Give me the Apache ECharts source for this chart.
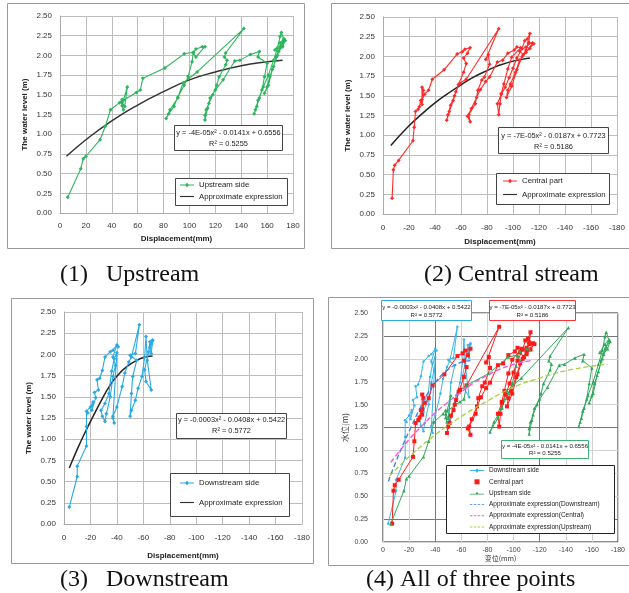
<!DOCTYPE html>
<html><head><meta charset="utf-8">
<script src="https://cdn.jsdelivr.net/npm/echarts@6/dist/echarts.min.js"></script>
<style>html,body{margin:0;padding:0;background:#fff}#c{width:629px;height:593px}</style>
</head><body><div id="c"></div>
<script>
// ---------- DATA (displacement magnitude in mm, water level in m) ----------
const upDisp  = [6,16,18,20,31,35,39,46,48,48,49,48,50,52,49,59,62,64,81,96,103,105,110,112,105,103,102,99,96,91,88,84,82,85,91,95,106,142,128,127,129,128,123,121,118,115,113,112,112,114,116,120,126,135,139,147,154,153,160,158,156,153,151,150,152,154,157,161,165,168,170,171,173,170,167,165,162,160,158,161,164,168,171,174,172,169,166,170,173];
const upLevel = [0.20,0.56,0.69,0.72,0.93,1.10,1.31,1.40,1.44,1.36,1.31,1.40,1.35,1.60,1.43,1.53,1.56,1.71,1.84,2.02,2.04,2.08,2.11,2.11,1.98,2.03,1.92,1.73,1.62,1.47,1.35,1.26,1.20,1.31,1.46,1.65,1.79,2.34,2.03,1.98,1.94,1.88,1.73,1.62,1.50,1.39,1.31,1.24,1.18,1.33,1.46,1.56,1.69,1.93,1.94,2.01,2.05,1.98,1.90,1.73,1.56,1.43,1.31,1.26,1.35,1.46,1.60,1.75,1.94,2.09,2.24,2.29,2.20,2.11,1.98,1.86,1.73,1.60,1.52,1.62,1.82,2.00,2.13,2.19,2.11,2.05,2.07,2.16,2.21];

const cenDisp  = [7,8,9,12,23,24,25,27,28,29,30,31,30,30,32,35,38,47,57,61,63,67,65,62,64,62,58,55,52,50,49,51,54,56,59,64,89,79,81,82,78,76,73,71,66,67,65,68,72,75,79,82,88,92,96,101,103,106,99,96,93,91,90,89,88,91,94,97,100,103,107,109,111,113,112,115,110,105,102,98,96,95,99,103,107,110,112,116,108,105,110,113];
const cenLevel = [0.20,0.56,0.62,0.68,0.93,1.10,1.30,1.33,1.36,1.44,1.39,1.57,1.61,1.45,1.52,1.57,1.71,1.83,2.03,2.06,2.09,2.11,2.04,1.98,1.91,1.80,1.64,1.50,1.38,1.26,1.19,1.30,1.44,1.55,1.66,1.71,2.35,1.96,2.02,1.90,1.74,1.70,1.57,1.40,1.26,1.17,1.24,1.34,1.48,1.58,1.68,1.74,1.93,1.95,2.04,2.08,2.12,2.11,1.99,1.84,1.65,1.53,1.40,1.26,1.40,1.52,1.61,1.73,1.85,1.98,2.10,2.20,2.22,2.29,2.16,2.17,2.05,1.95,1.80,1.65,1.57,1.48,1.62,1.83,2.00,2.08,2.18,2.16,2.02,2.07,2.12,2.10];

const dnDisp  = [4,10,10,17,17,17,18,20,22,21,24,23,26,25,27,29,31,35,37,40,41,37,39,37,35,32,31,29,28,31,34,36,38,40,37,38,37,40,44,46,49,51,57,54,50,55,52,51,50,51,54,56,59,61,62,63,66,62,61,64,65,67,65,66,67,66];
const dnLevel = [0.20,0.56,0.68,0.92,1.15,1.33,1.31,1.38,1.44,1.34,1.49,1.55,1.58,1.70,1.72,1.81,1.97,2.03,2.05,2.11,2.09,1.97,1.87,1.74,1.50,1.30,1.21,1.27,1.34,1.42,1.54,1.80,1.95,2.02,1.25,1.19,1.27,1.38,1.62,1.78,1.91,1.97,2.35,2.01,1.99,1.93,1.74,1.54,1.27,1.34,1.46,1.60,1.74,1.97,2.21,1.93,1.58,1.68,1.82,2.03,2.15,2.17,2.08,2.01,2.16,2.12];

// fitted curves
const upFitX  = [5,20,40,60,80,100,120,140,160,172];
const upFitY  = [0.72,0.93,1.17,1.37,1.54,1.69,1.79,1.87,1.92,1.94];
const cenFitX = [6,20,30,40,50,60,70,80,90,100,113];
const cenFitY = [0.87,1.12,1.27,1.41,1.53,1.64,1.74,1.82,1.89,1.94,1.98];
const dnFitX  = [4,10,15,22,28,35,41,47,55,62,67];
const dnFitY  = [0.66,0.88,1.05,1.27,1.45,1.64,1.76,1.85,1.93,1.97,1.98];

const eqUp  = ['y = -4E-05x\u00b2 - 0.0141x + 0.6556', 'R\u00b2 = 0.5255'];
const eqCen = ['y = -7E-05x\u00b2 - 0.0187x + 0.7723', 'R\u00b2 = 0.5186'];
const eqDn  = ['y = -0.0003x\u00b2 - 0.0408x + 0.5422', 'R\u00b2 = 0.5772'];
const captions = ['(1)   Upstream', '(2) Central stream', '(3)   Downstream', '(4) All of three points'];

// ---------- helpers ----------
const F = 'Liberation Sans';
const pos = (xs, ys) => xs.map((x, i) => [x, ys[i]]);
const neg = (xs, ys) => xs.map((x, i) => [-x, ys[i]]);

const GREEN = '#2db55d', RED = '#ff2a2a', BLUE = '#29a9e1';
const G4 = '#2ea85a', R4 = '#ff1a1a', B4 = '#3cb4e6';

// legend icons
const ICON_DIAMOND = 'path://M0,4.45L6.6,4.45L8.5,2.3L10.4,4.45L17,4.45L17,5.55L10.4,5.55L8.5,7.7L6.6,5.55L0,5.55Z';
const ICON_TRI = 'path://M0,4.45L6.7,4.45L8.5,2L10.3,4.45L17,4.45L17,5.55L0,5.55Z';
const ICON_SOLID = 'path://M0,0L17,0L17,1.4L0,1.4Z';
const ICON_DASH = 'path://M0,0L2.6,0L2.6,1L0,1ZM4.1,0L6.7,0L6.7,1L4.1,1ZM8.2,0L10.8,0L10.8,1L8.2,1ZM12.3,0L14.9,0L14.9,1L12.3,1Z';
const ICON_SQ = 'path://M0,0L10,0L10,10L0,10Z';

function yAx(idx, opts) {
  return Object.assign({
    type: 'value', gridIndex: idx, min: 0, max: 2.5, interval: 0.25,
    name: 'The water level (m)', nameLocation: 'middle', nameGap: 31,
    nameTextStyle: { fontFamily: F, fontSize: 8, fontWeight: 'bold', color: '#222' },
    axisLine: { show: true, lineStyle: { color: '#aaa' } }, axisTick: { show: false },
    axisLabel: { fontFamily: F, fontSize: 8, color: '#333', margin: 8, formatter: v => v.toFixed(2) },
    splitLine: { lineStyle: { color: '#bdbdbd', width: 1 } }
  }, opts || {});
}
function xAx(idx, inverse, opts) {
  return Object.assign({
    type: 'value', gridIndex: idx, min: inverse ? -180 : 0, max: inverse ? 0 : 180, interval: 20, inverse: inverse,
    name: 'Displacement(mm)', nameLocation: 'middle', nameGap: 22,
    nameTextStyle: { fontFamily: F, fontSize: 8, fontWeight: 'bold', color: '#222' },
    axisLine: { show: true, onZero: false, lineStyle: { color: '#aaa' } }, axisTick: { show: false },
    axisLabel: { fontFamily: F, fontSize: 8, color: '#333', margin: 9 },
    splitLine: { lineStyle: { color: '#bdbdbd', width: 1 } }
  }, opts || {});
}
function dataLine(name, idx, data, color, symbol, size, extra) {
  return Object.assign({
    name, type: 'line', xAxisIndex: idx, yAxisIndex: idx, data,
    symbol, symbolSize: size, showSymbol: true,
    lineStyle: { color, width: 1.1 }, itemStyle: { color }, z: 3
  }, extra || {});
}
function fitLine(name, idx, data, color, dashed) {
  return {
    name, type: 'line', xAxisIndex: idx, yAxisIndex: idx, data, smooth: true, symbol: 'none',
    lineStyle: { color, width: dashed ? 1.3 : 1.5, type: dashed ? 'dashed' : 'solid' },
    itemStyle: { color }, z: dashed ? 4 : 2
  };
}
function box(x, y, w, h, stroke, z) {
  return { type: 'rect', z: z || 100, shape: { x, y, width: w, height: h },
    style: { fill: '#fff', stroke: stroke || '#444', lineWidth: 1 } };
}
function frame(x, y, w, h) {
  return { type: 'rect', z: 0, silent: true, shape: { x, y, width: w, height: h },
    style: { fill: 'none', stroke: '#999', lineWidth: 1 } };
}
function txt(t, x, y, size) {
  return { type: 'text', z: 101, style: {
    text: t, x, y, fontFamily: F, fontSize: size, fill: '#222', align: 'center', verticalAlign: 'middle' } };
}
function cap(t, x, y) {
  return { type: 'text', z: 101, style: { text: t, x, y, fontFamily: 'Liberation Serif', fontSize: 24,
    fill: '#111', align: 'left', verticalAlign: 'middle' } };
}
const legText = { fontFamily: F, fontSize: 7.8, color: '#222' };

const chart = echarts.init(document.getElementById('c'), null, { renderer: 'canvas' });
chart.setOption({
  animation: false,
  backgroundColor: '#fff',
  grid: [
    { left: 60, top: 16, width: 233, height: 197 },
    { left: 383, top: 17, width: 234, height: 197 },
    { left: 64, top: 312, width: 238, height: 212 },
    { left: 383, top: 313, width: 235, height: 229, show: true, borderColor: '#222', borderWidth: 1 }
  ],
  xAxis: [
    xAx(0, false),
    xAx(1, true, { nameGap: 24, axisLabel: { fontFamily: F, fontSize: 8, color: '#333', margin: 10 } }),
    xAx(2, true, { nameGap: 28, axisLabel: { fontFamily: F, fontSize: 8, color: '#333', margin: 10 } }),
    xAx(3, true, { name: '变位(mm)', nameGap: 11,
      nameTextStyle: { fontFamily: 'Noto Sans CJK SC', fontSize: 7, color: '#333' },
      axisLabel: { fontFamily: F, fontSize: 7, color: '#444', margin: 5 },
      axisLine: { show: false },
      splitLine: { lineStyle: { color: ['#d2d2d2', '#d2d2d2', '#d2d2d2', '#777'], width: 1 } } })
  ],
  yAxis: [
    yAx(0),
    yAx(1),
    yAx(2),
    yAx(3, { name: '水位(m)', nameGap: 34,
      nameTextStyle: { fontFamily: 'Noto Sans CJK SC', fontSize: 8, color: '#333' },
      axisLabel: { fontFamily: F, fontSize: 7, color: '#444', margin: 15, formatter: v => v.toFixed(2) },
      axisLine: { show: false },
      splitLine: { lineStyle: { color: ['#d2d2d2', '#777', '#d2d2d2', '#d2d2d2'], width: 1 } } })
  ],
  legend: [
    { left: 180, top: 181, orient: 'vertical', padding: 0, itemWidth: 14, itemHeight: 6, itemGap: 3.5,
      textStyle: legText,
      data: [{ name: 'Upstream side', icon: ICON_DIAMOND }, { name: 'Approximate expression', icon: ICON_SOLID }] },
    { left: 503, top: 177, orient: 'vertical', padding: 0, itemWidth: 14, itemHeight: 6, itemGap: 5.5,
      textStyle: legText,
      data: [{ name: 'Central part', icon: ICON_DIAMOND }, { name: 'Approximate expression', icon: ICON_SOLID }] },
    { left: 180, top: 479, orient: 'vertical', padding: 0, itemWidth: 14, itemHeight: 6, itemGap: 11.5,
      textStyle: legText,
      data: [{ name: 'Downstream side', icon: ICON_DIAMOND }, { name: 'Approximate expression', icon: ICON_SOLID }] },
    { left: 470, top: 467, orient: 'vertical', padding: 0, itemWidth: 14, itemHeight: 5, itemGap: 4.3,
      textStyle: { fontFamily: F, fontSize: 6.5, color: '#222' },
      data: [{ name: 'Downstream side ', icon: ICON_DIAMOND }, { name: 'Central part ', icon: ICON_SQ },
             { name: 'Upstream side ', icon: ICON_TRI },
             { name: 'Approximate expression(Downstream)', icon: ICON_DASH },
             { name: 'Approximate expression(Central)', icon: ICON_DASH },
             { name: 'Approximate expression(Upstream)', icon: ICON_DASH }] }
  ],
  series: [
    fitLine('Approximate expression', 0, pos(upFitX, upFitY), '#333', false),
    dataLine('Upstream side', 0, pos(upDisp, upLevel), GREEN, 'diamond', 4),

    dataLine('Central part', 1, neg(cenDisp, cenLevel), RED, 'diamond', 4),
    fitLine('Approximate expression', 1, neg(cenFitX, cenFitY), '#222', false),

    dataLine('Downstream side', 2, neg(dnDisp, dnLevel), BLUE, 'diamond', 4),
    fitLine('Approximate expression', 2, neg(dnFitX, dnFitY), '#222', false),

    dataLine('Downstream side ', 3, neg(dnDisp, dnLevel), B4, 'circle', 2.5, { lineStyle: { color: B4, width: 1 } }),
    dataLine('Central part ', 3, neg(cenDisp, cenLevel), R4, 'rect', 4, { lineStyle: { color: R4, width: 1 } }),
    dataLine('Upstream side ', 3, neg(upDisp, upLevel), G4, 'triangle', 3.5, { lineStyle: { color: G4, width: 1 } }),
    fitLine('Approximate expression(Downstream)', 3, neg(dnFitX, dnFitY), '#3f7fd6', true),
    fitLine('Approximate expression(Central)', 3, neg(cenFitX, cenFitY), '#ff4fd8', true),
    fitLine('Approximate expression(Upstream)', 3, neg(upFitX, upFitY), '#a5d13a', true)
  ],
  graphic: [
    frame(7.5, 3.5, 297, 245),
    frame(331.5, 3.5, 300, 245),
    frame(11.5, 298.5, 302, 265),
    frame(328.5, 297.5, 303, 268),

    box(174.5, 125.5, 108, 25),
    txt(eqUp[0], 228.5, 133, 7.4), txt(eqUp[1], 228.5, 143.5, 7.4),
    box(175.5, 178.5, 112, 27, '#444', 1),

    box(498.5, 127.5, 110, 26),
    txt(eqCen[0], 553.5, 136, 7.4), txt(eqCen[1], 553.5, 146.5, 7.4),
    box(496.5, 173.5, 113, 31, '#444', 1),

    box(176.5, 413.5, 110, 25),
    txt(eqDn[0], 231.5, 420, 7.4), txt(eqDn[1], 231.5, 431, 7.4),
    box(170.5, 473.5, 119, 43, '#444', 1),

    box(381.5, 300.5, 90, 20, '#29abe2'),
    txt(eqDn[0], 426.5, 307.5, 6.1), txt(eqDn[1], 426.5, 315, 6.1),
    box(489.5, 300.5, 86, 20, '#ff3333'),
    txt(eqCen[0], 532.5, 307.5, 6.1), txt(eqCen[1], 532.5, 315, 6.1),
    box(501.5, 440.5, 87, 18, '#3cb371'),
    txt(eqUp[0], 545, 446, 6.1), txt(eqUp[1], 545, 453.5, 6.1),
    box(446.5, 465.5, 168, 68, '#222', 1),

    cap(captions[0], 60, 275),
    cap(captions[1], 424, 275),
    cap(captions[2], 60, 580),
    cap(captions[3], 366, 580)
  ]
});
</script>
</body></html>
